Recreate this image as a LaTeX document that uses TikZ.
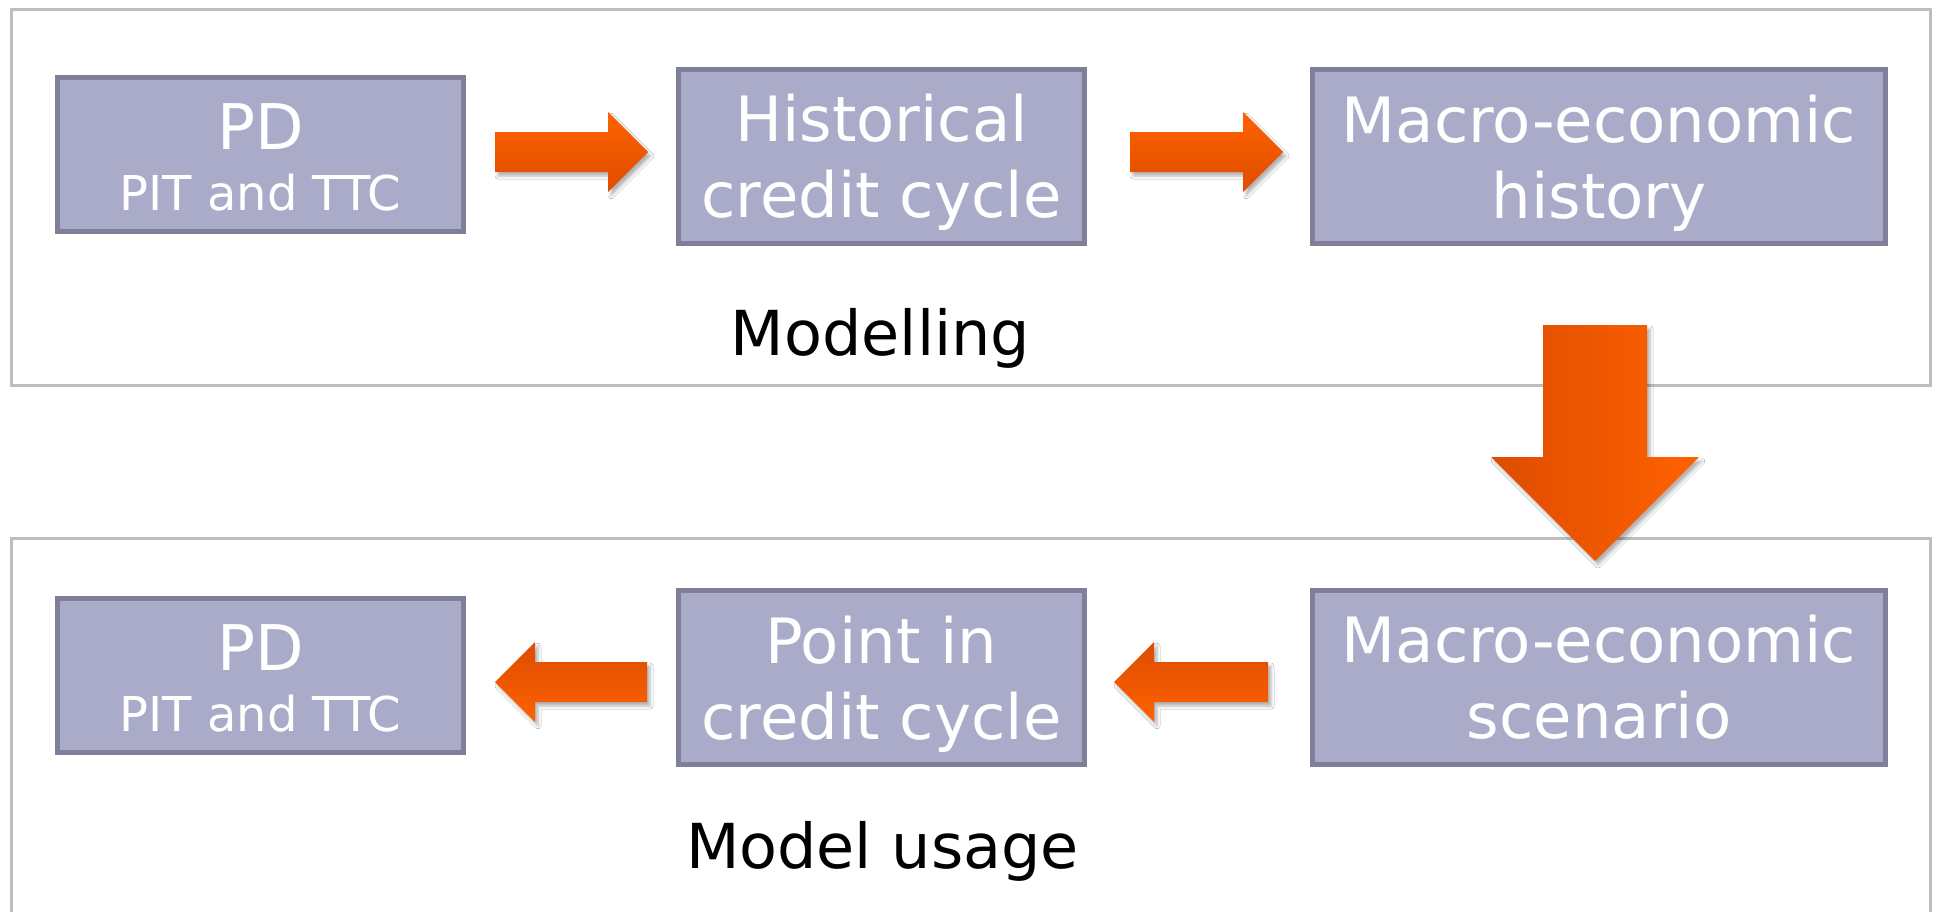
\documentclass[tikz,border=0pt]{standalone}
\usepackage{fontspec}
\setmainfont{DejaVu Sans}
\usetikzlibrary{calc,shadows.blur}
\definecolor{boxfill}{RGB}{170,171,201}
\definecolor{boxline}{RGB}{127,127,153}
\definecolor{framegray}{RGB}{190,190,190}
\definecolor{orL}{RGB}{255,98,0}
\definecolor{orD}{RGB}{222,76,0}
\newcommand\hArrowR[3]{\path[#1] let \p1=(#2), \p2=(#3) in
  (\x1,\y1+10pt) -- (\x2-20pt,\y1+10pt) -- (\x2-20pt,\y1+20pt) -- (\x2,\y1)
  -- (\x2-20pt,\y1-20pt) -- (\x2-20pt,\y1-10pt) -- (\x1,\y1-10pt) -- cycle;}
\newcommand\hArrowL[3]{\path[#1] let \p1=(#2), \p2=(#3) in
  (\x1,\y1+10pt) -- (\x2+20pt,\y1+10pt) -- (\x2+20pt,\y1+20pt) -- (\x2,\y1)
  -- (\x2+20pt,\y1-20pt) -- (\x2+20pt,\y1-10pt) -- (\x1,\y1-10pt) -- cycle;}
\newcommand\vArrowD[3]{\path[#1] let \p1=(#2), \p2=(#3) in
  (\x1-26pt,\y1) -- (\x1-26pt,\y2+52pt) -- (\x1-52pt,\y2+52pt) -- (\x1,\y2)
  -- (\x1+52pt,\y2+52pt) -- (\x1+26pt,\y2+52pt) -- (\x1+26pt,\y1) -- cycle;}
\newcommand\nodepth[1]{\raisebox{0pt}[\height][0pt]{#1}}
\begin{document}
\begin{tikzpicture}[x=0.5pt,y=-0.5pt,
  stage/.style={draw=boxline, fill=boxfill, line width=2.5pt, text=white,
    inner sep=0pt, outer sep=0pt, align=center,
    font=\fontsize{31.25}{38}\selectfont,
    minimum width=203pt, minimum height=87pt},
  pdstage/.style={stage, minimum height=77pt, font=\fontsize{24}{30.5}\selectfont},
  widestage/.style={stage, minimum width=286.5pt},
  section/.style={draw=framegray, line width=1.5pt},
  caption/.style={anchor=base, inner sep=0pt, text=black,
    font=\fontsize{31}{38}\selectfont},
  shadowed/.style={blur shadow={shadow xshift=1.5pt, shadow yshift=-2pt,
    shadow blur radius=1.5pt, shadow opacity=30}},
  arrowR/.style={shadowed, top color=orL, bottom color=orD},
  arrowL/.style={shadowed, top color=orD, bottom color=orL},
  arrowD/.style={shadowed, left color=orD, right color=orL}]
\clip (0,0) rectangle (1941,911);
\fill[white] (0,0) rectangle (1941,911);
% section frames
\draw[section] (11.5,9.5) rectangle (1930.5,385.5);
\draw[section] (11.5,930) -- (11.5,538.5) -- (1930.5,538.5) -- (1930.5,930);
% stages
\node[pdstage] (pd1) at (260.5,154.5)
  {{\fontsize{31.5}{38}\selectfont\rule{0pt}{26pt}PD}\\PIT and TTC};
\node[stage] (hist) at (881.5,156) {Historical\\\nodepth{credit cycle}};
\node[widestage] (mac1) at (1599,156.5) {Macro-economic\\\nodepth{history}};
\node[pdstage] (pd2) at (260.5,675.5)
  {{\fontsize{31.5}{38}\selectfont\rule{0pt}{26pt}PD}\\PIT and TTC};
\node[stage] (point) at (881.5,677.5) {Point in\\\nodepth{credit cycle}};
\node[widestage] (mac2) at (1599,677.5) {Macro-economic\\scenario};
% captions
\node[caption] (modelling) at (880.5,355) {Modelling};
\node[caption] (usage) at (882.5,868) {Model usage};
% block arrows
\hArrowR{arrowR}{$(pd1.east)+(31.5,-2.5)$}{$(hist.west)+(-30.5,-4)$}
\hArrowR{arrowR}{$(hist.east)+(45.5,-4)$}{$(mac1.west)+(-29.5,-4.5)$}
\vArrowD{arrowD}{$(mac1.south)+(-4,81.5)$}{$(mac2.north)+(-4,-29.5)$}
\hArrowL{arrowL}{$(mac2.west)+(-44.5,4.5)$}{$(point.east)+(29.5,4.5)$}
\hArrowL{arrowL}{$(point.west)+(-31.5,4.5)$}{$(pd2.east)+(31.5,6.5)$}
\end{tikzpicture}
\end{document}
